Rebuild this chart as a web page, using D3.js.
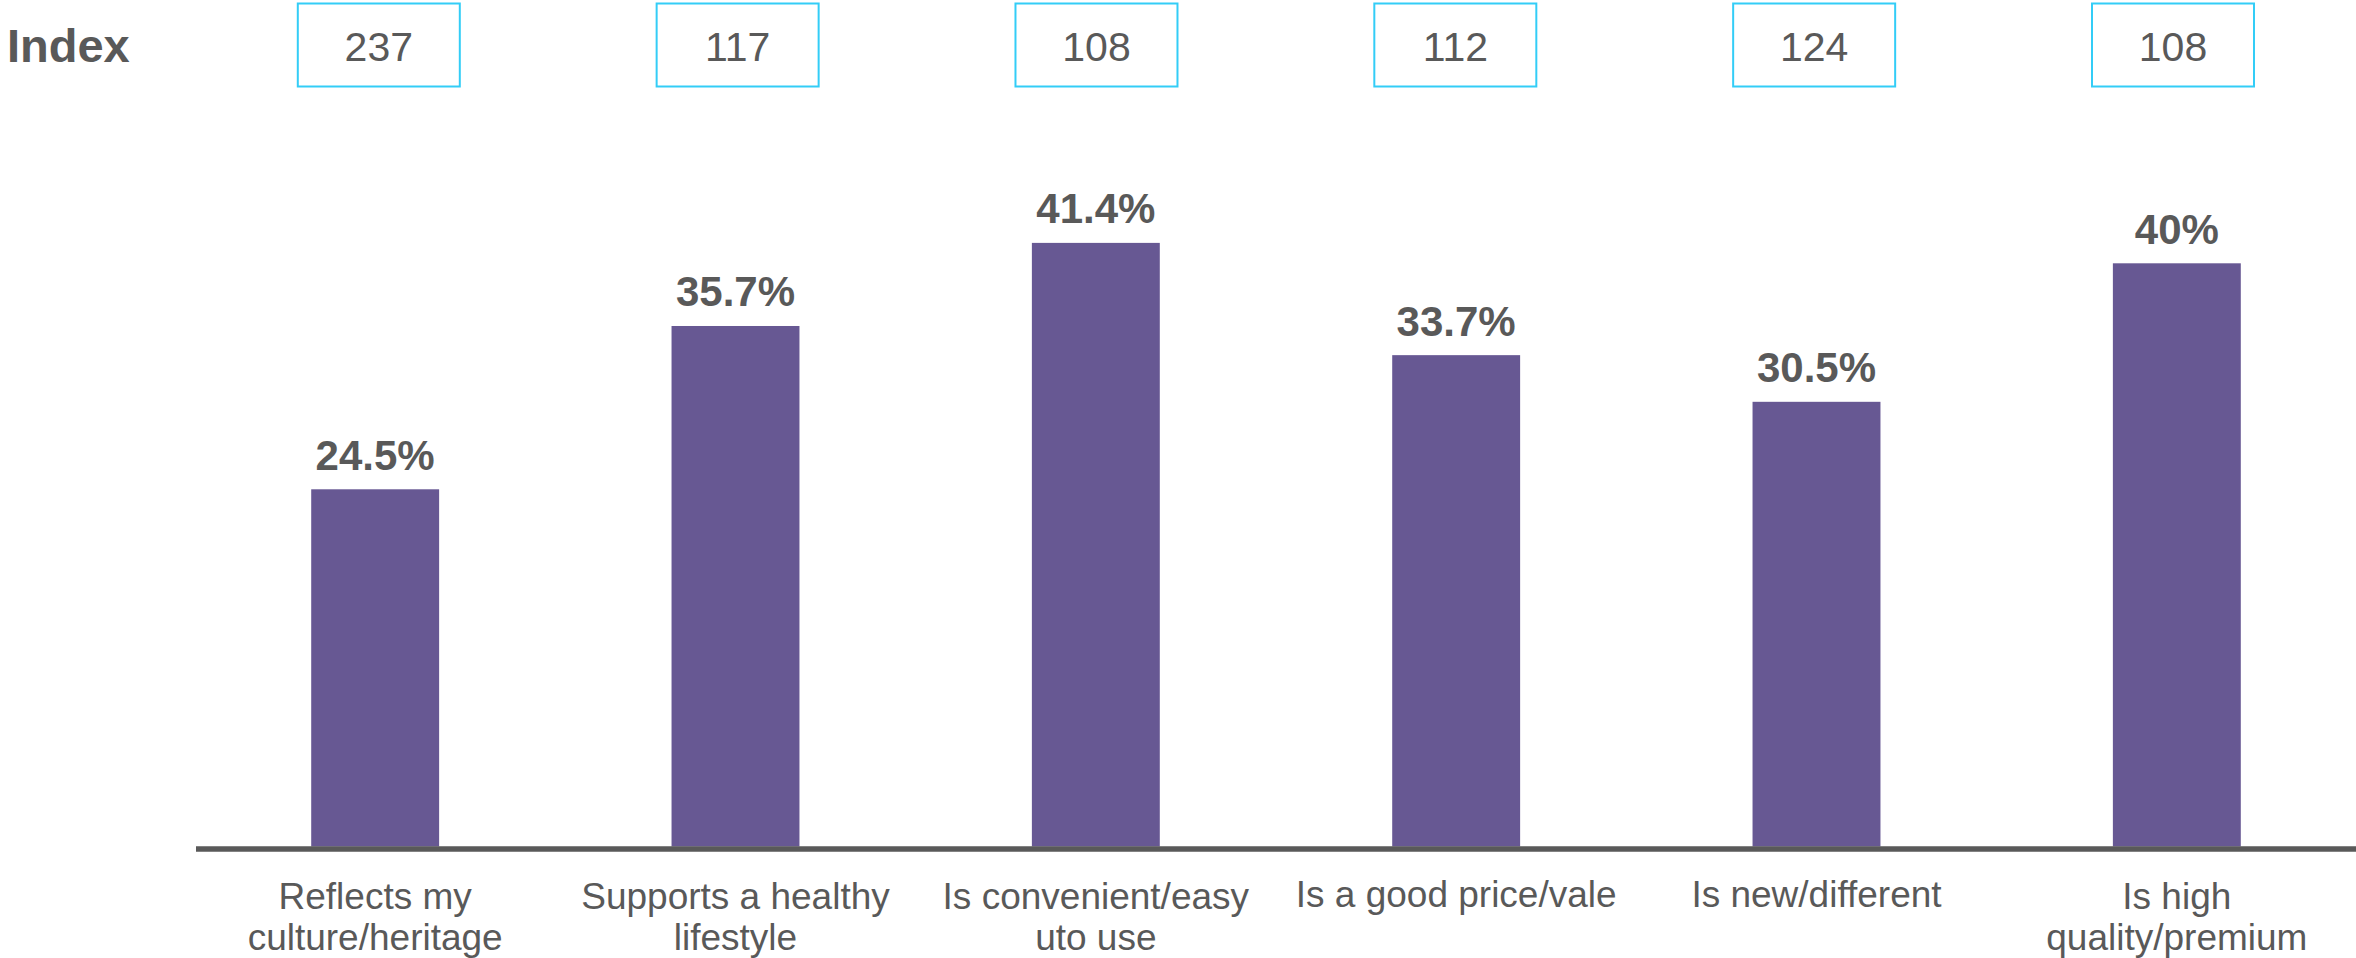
<!DOCTYPE html>
<html>
<head>
<meta charset="utf-8">
<script src="https://cdn.jsdelivr.net/npm/d3@7"></script>
<style>
  html, body { margin: 0; padding: 0; background: #ffffff; }
  svg { display: block; }
  text { font-family: "Liberation Sans", Arial, sans-serif; fill: #595959; }
</style>
</head>
<body>
<svg id="chart" width="2356" height="958"></svg>
<script>
// Attribute categories, shares of respondents (%) and index scores
const categories = [
  "Reflects my culture/heritage",
  "Supports a healthy lifestyle",
  "Is convenient/easy uto use",
  "Is a good price/vale",
  "Is new/different",
  "Is high quality/premium"
];
const categoryLines = [
  ["Reflects my", "culture/heritage"],
  ["Supports a healthy", "lifestyle"],
  ["Is convenient/easy", "uto use"],
  ["Is a good price/vale"],
  ["Is new/different"],
  ["Is high", "quality/premium"]
];
const shares = [24.5, 35.7, 41.4, 33.7, 30.5, 40];
const shareLabels = ["24.5%", "35.7%", "41.4%", "33.7%", "30.5%", "40%"];
const indexValues = [237, 117, 108, 112, 124, 108];
const indexTitle = "Index";

const svg = d3.select("#chart");

const x = d3.scaleBand()
  .domain(categories)
  .range([195, 2357])
  .paddingInner(0.645)
  .paddingOuter(0.3225);

const y = d3.scaleLinear()
  .domain([0, 45])
  .range([846.5, 190.4]);

// Index boxes row
const xIdx = d3.scalePoint()
  .domain(categories)
  .range([378.8, 2173]);

svg.append("text")
  .attr("x", 7)
  .attr("y", 62)
  .attr("font-size", 47)
  .attr("font-weight", "bold")
  .text(indexTitle);

const boxes = svg.append("g").selectAll("g")
  .data(categories)
  .join("g")
  .attr("transform", d => `translate(${xIdx(d)},0)`);

boxes.append("rect")
  .attr("x", -81)
  .attr("y", 3.5)
  .attr("width", 162)
  .attr("height", 83)
  .attr("fill", "none")
  .attr("stroke", "#33cdf7")
  .attr("stroke-width", 2);

boxes.append("text")
  .attr("y", 61)
  .attr("text-anchor", "middle")
  .attr("font-size", 41)
  .text((d, i) => indexValues[i]);

// Bars
svg.append("g").selectAll("rect")
  .data(categories)
  .join("rect")
  .attr("x", d => x(d))
  .attr("y", (d, i) => y(shares[i]))
  .attr("width", x.bandwidth())
  .attr("height", (d, i) => y(0) - y(shares[i]))
  .attr("fill", "#675893");

// Value labels
svg.append("g").selectAll("text")
  .data(categories)
  .join("text")
  .attr("x", d => x(d) + x.bandwidth() / 2)
  .attr("y", (d, i) => y(shares[i]) - 19.5)
  .attr("text-anchor", "middle")
  .attr("font-size", 42)
  .attr("font-weight", "bold")
  .text((d, i) => shareLabels[i]);

// Baseline axis
const axis = d3.axisBottom(x).tickSize(0).tickFormat("");
const axisG = svg.append("g")
  .attr("transform", `translate(0,${y(0) + 2.5})`)
  .call(axis);
axisG.select(".domain")
  .attr("d", "M196,0H2356")
  .attr("stroke", "#595959")
  .attr("stroke-width", 5.5);

// Category labels
const catLabels = svg.append("g").selectAll("text")
  .data(categories)
  .join("text")
  .attr("x", d => x(d) + x.bandwidth() / 2)
  .attr("y", (d, i) => categoryLines[i].length > 1 ? 909 : 907)
  .attr("text-anchor", "middle")
  .attr("font-size", 37);

catLabels.selectAll("tspan")
  .data((d, i) => categoryLines[i])
  .join("tspan")
  .attr("x", function () { return d3.select(this.parentNode).attr("x"); })
  .attr("dy", (d, j) => j === 0 ? 0 : 41)
  .text(d => d);
</script>
</body>
</html>
